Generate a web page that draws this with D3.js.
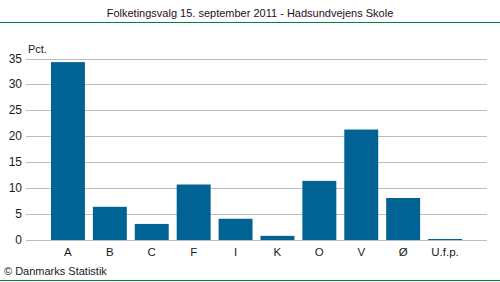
<!DOCTYPE html>
<html>
<head>
<meta charset="utf-8">
<style>
  body { margin: 0; background: #fff; }
  svg { display: block; font-family: "Liberation Sans", Arial, sans-serif; }
</style>
</head>
<body>
<svg id="chart" width="500" height="282"></svg>
<script src="https://d3js.org/d3.v7.min.js"></script>
<script>
var categories = ["A", "B", "C", "F", "I", "K", "O", "V", "Ø", "U.f.p."]
var values = [34.3, 6.4, 3.1, 10.7, 4.1, 0.8, 11.4, 21.3, 8.1, 0.2]
var yTicks = [0, 5, 10, 15, 20, 25, 30, 35]
var title = "Folketingsvalg 15. september 2011 - Hadsundvejens Skole"

var svg = d3.select("#chart"),
    width = +svg.attr("width"),
    height = +svg.attr("height")

var gridLeft = 26, gridRight = 487, plotTop = 58.5, plotBottom = 240

var x = d3.scaleBand()
    .domain(categories)
    .range([47, 466])
    .paddingInner(0.19)
    .paddingOuter(0.095)

var y = d3.scaleLinear()
    .domain([0, 35])
    .range([plotBottom, plotTop])

// title + green rules
svg.append("text")
    .attr("x", width / 2)
    .attr("y", 17)
    .attr("text-anchor", "middle")
    .attr("font-size", 11)
    .attr("fill", "#1a1020")
    .text(title)

svg.append("line")
    .attr("x1", 0).attr("x2", width)
    .attr("y1", 22.5).attr("y2", 22.5)
    .attr("stroke", "#00843d").attr("stroke-width", 1)

svg.append("line")
    .attr("x1", 0).attr("x2", width)
    .attr("y1", 280.5).attr("y2", 280.5)
    .attr("stroke", "#00843d").attr("stroke-width", 1)

// grid
svg.append("g")
    .selectAll("line")
    .data(yTicks)
    .enter().append("line")
    .attr("x1", gridLeft).attr("x2", gridRight)
    .attr("y1", function(d) { return Math.round(y(d)) + 0.5 })
    .attr("y2", function(d) { return Math.round(y(d)) + 0.5 })
    .attr("stroke", "#bcbcc6")
    .attr("stroke-width", 1)

// y labels
svg.append("g")
    .selectAll("text")
    .data(yTicks)
    .enter().append("text")
    .attr("x", 22)
    .attr("y", function(d) { return y(d) + 4 })
    .attr("text-anchor", "end")
    .attr("font-size", 12)
    .attr("fill", "#1a1a1a")
    .text(function(d) { return d })

svg.append("text")
    .attr("x", 28)
    .attr("y", 53)
    .attr("font-size", 11)
    .attr("fill", "#1a1a1a")
    .text("Pct.")

// bars
svg.append("g")
    .selectAll("rect")
    .data(values)
    .enter().append("rect")
    .attr("x", function(d, i) { return x(categories[i]) })
    .attr("y", function(d) { return y(d) })
    .attr("width", x.bandwidth())
    .attr("height", function(d) { return y(0) - y(d) })
    .attr("fill", "#006394")

// x labels
svg.append("g")
    .selectAll("text")
    .data(categories)
    .enter().append("text")
    .attr("x", function(d) { return x(d) + x.bandwidth() / 2 })
    .attr("y", 256)
    .attr("text-anchor", "middle")
    .attr("font-size", 11.5)
    .attr("fill", "#1a1a1a")
    .text(function(d) { return d })

svg.append("text")
    .attr("x", 4)
    .attr("y", 275)
    .attr("font-size", 11)
    .attr("fill", "#1a1a1a")
    .text("© Danmarks Statistik")
</script>
</body>
</html>
